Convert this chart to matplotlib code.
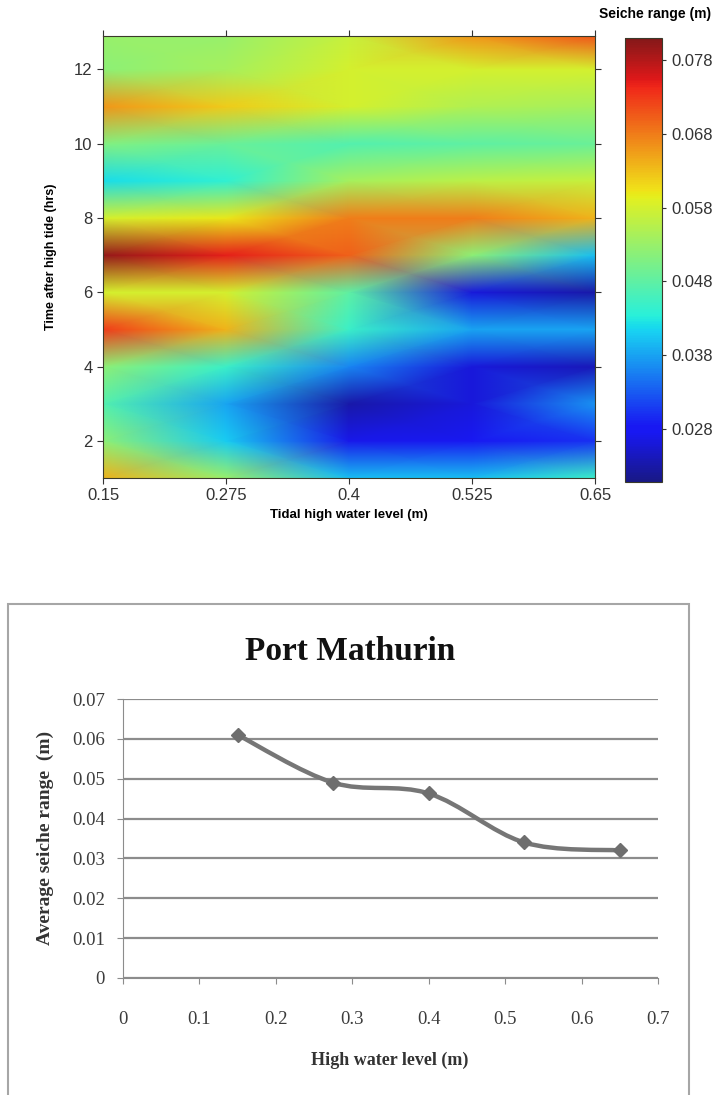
import numpy as np
import matplotlib
matplotlib.use('Agg')
import matplotlib.pyplot as plt
from matplotlib.path import Path
from matplotlib.patches import PathPatch, Rectangle
from matplotlib.colors import ListedColormap

# seiche range map (rows = hours after high tide, cols = tidal high water level)
water_level = [0.15, 0.275, 0.4, 0.525, 0.65]
hours = [1, 2, 3, 4, 5, 6, 7, 8, 9, 10, 11, 12, 12.9]
seiche = np.array([
    [0.064, 0.053, 0.040, 0.040, 0.045],
    [0.052, 0.041, 0.027, 0.028, 0.030],
    [0.047, 0.038, 0.023, 0.026, 0.037],
    [0.052, 0.045, 0.036, 0.026, 0.024],
    [0.073, 0.064, 0.045, 0.038, 0.038],
    [0.058, 0.058, 0.048, 0.026, 0.023],
    [0.080, 0.075, 0.070, 0.052, 0.040],
    [0.058, 0.060, 0.068, 0.068, 0.064],
    [0.042, 0.044, 0.054, 0.056, 0.057],
    [0.051, 0.049, 0.047, 0.048, 0.049],
    [0.066, 0.062, 0.058, 0.055, 0.054],
    [0.052, 0.054, 0.058, 0.058, 0.058],
    [0.053, 0.053, 0.057, 0.066, 0.071],
])
cbar_ticks = [0.028, 0.038, 0.048, 0.058, 0.068, 0.078]

# average seiche range, Port Mathurin
hw_level = [0.15, 0.275, 0.4, 0.525, 0.65]
avg_seiche = [0.061, 0.049, 0.0463, 0.034, 0.032]

W, H = 725, 1095
fig = plt.figure(figsize=(W / 100, H / 100), dpi=100)

def fx(px):
    return px / W

def fy(px):
    return 1 - px / H

sans = 'Liberation Sans'
serif = 'Liberation Serif'

# slightly washed-out jet, like the scanned figure
jet = plt.cm.jet(np.linspace(0, 1, 256))[:, :3]
washed = ListedColormap(0.85 * jet + 0.15 * np.array([0.62, 0.62, 0.66]))

# ---------- top: colour map ----------
ax1 = fig.add_axes([fx(103), fy(478), fx(595) - fx(103), fy(36) - fy(478)])
mesh = ax1.pcolormesh(water_level, hours, seiche, shading='gouraud',
                      cmap=washed, vmin=0.0208, vmax=0.081)
ax1.set_xticks(water_level)
ax1.set_xticklabels(['0.15', '0.275', '0.4', '0.525', '0.65'])
ax1.set_yticks([2, 4, 6, 8, 10, 12])
ax1.tick_params(direction='out', length=4, top=True, right=True,
                labeltop=False, labelright=False, labelsize=12,
                labelcolor='#333333', color='#333333')
for lab in ax1.get_xticklabels() + ax1.get_yticklabels():
    lab.set_fontfamily(sans)
for sp in ax1.spines.values():
    sp.set_color('#3a3a2a')
ax1.set_xlabel('Tidal high water level (m)', fontsize=9.5, fontweight='bold',
               family=sans, labelpad=4)
ax1.set_ylabel('Time after high tide (hrs)', fontsize=9, fontweight='bold',
               family=sans, labelpad=12)

cax = fig.add_axes([fx(625), fy(482), fx(662) - fx(625), fy(38) - fy(482)])
cbar = fig.colorbar(mesh, cax=cax, ticks=cbar_ticks)
cbar.ax.set_yticklabels(['%.3f' % t for t in cbar_ticks])
cbar.ax.tick_params(length=3, labelsize=12, labelcolor='#333333', color='#333333')
for lab in cbar.ax.get_yticklabels():
    lab.set_fontfamily(sans)
cbar.outline.set_edgecolor('#3a3a2a')
fig.text(fx(655), fy(14), 'Seiche range (m)', ha='center', va='center',
         fontsize=10, fontweight='bold', family=sans)

# ---------- bottom: Excel-style line chart ----------
fig.add_artist(Rectangle((fx(8), -0.01), fx(689) - fx(8), fy(604) + 0.01,
                         transform=fig.transFigure, fill=False,
                         edgecolor='#a6a6a6', lw=1.5))

ax2 = fig.add_axes([fx(123), fy(978), fx(658) - fx(123), fy(699) - fy(978)])
ax2.set_xlim(0, 0.7)
ax2.set_ylim(0, 0.07)
ax2.set_xticks(np.arange(0, 0.71, 0.1))
ax2.set_yticks(np.arange(0, 0.071, 0.01))
ax2.set_xticklabels(['0', '0.1', '0.2', '0.3', '0.4', '0.5', '0.6', '0.7'])
ax2.set_yticklabels(['0', '0.01', '0.02', '0.03', '0.04', '0.05', '0.06', '0.07'])
ax2.yaxis.grid(True, color='#8c8c8c', lw=1.6)
ax2.set_axisbelow(True)
for s in ['top', 'right']:
    ax2.spines[s].set_visible(False)
for s in ['left', 'bottom']:
    ax2.spines[s].set_color('#8c8c8c')
ax2.tick_params(axis='y', direction='out', length=4, color='#8c8c8c',
                labelsize=13.5, labelcolor='#3c3c3c', pad=9)
ax2.tick_params(axis='x', direction='out', length=4, color='#8c8c8c',
                labelsize=13.5, labelcolor='#3c3c3c', pad=20)
for lab in ax2.get_xticklabels() + ax2.get_yticklabels():
    lab.set_fontfamily(serif)

# smoothed line (Bezier segments through the data points)
pts = np.column_stack([hw_level, avg_seiche])
ext = np.vstack([pts[0], pts, pts[-1]])
verts = [pts[0]]
codes = [Path.MOVETO]
for i in range(len(pts) - 1):
    p0, p1, p2, p3 = ext[i], ext[i + 1], ext[i + 2], ext[i + 3]
    verts += [p1 + (p2 - p0) / 6, p2 - (p3 - p1) / 6, p2]
    codes += [Path.CURVE4] * 3
ax2.add_patch(PathPatch(Path(verts, codes), fill=False, edgecolor='#767676',
                        lw=3.2, capstyle='round', joinstyle='round'))
ax2.plot(hw_level, avg_seiche, linestyle='none', marker='D', ms=7,
         color='#6e6e6e')

fig.text(fx(350), fy(652), 'Port Mathurin', ha='center', va='center',
         fontsize=24, fontweight='bold', family=serif, color='#111111')
fig.text(fx(45), fy(838), 'Average seiche range  (m)', ha='center', va='center',
         rotation=90, fontsize=14, fontweight='bold', family=serif,
         color='#333333')
fig.text(fx(390), fy(1060), 'High water level (m)', ha='center', va='center',
         fontsize=13, fontweight='bold', family=serif, color='#333333')

fig.savefig('out.png', dpi=100)
